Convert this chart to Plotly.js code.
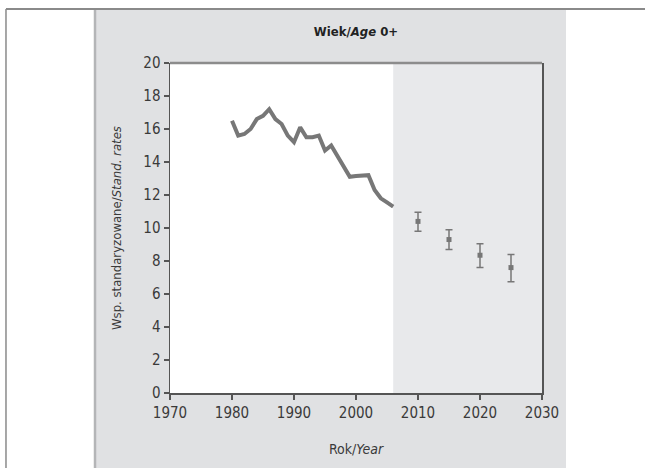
<!DOCTYPE html>
<html>
<head>
<meta charset="utf-8">
<script src="https://cdn.plot.ly/plotly-3.0.1.min.js"></script>
<style>
  html, body { margin: 0; padding: 0; background: #ffffff; }
  #chart { width: 645px; height: 468px; }
</style>
</head>
<body>
<div id="chart"></div>
<script>
// Observed standardised rates, age 0+
var obsYears = [1980, 1981, 1982, 1983, 1984, 1985, 1986, 1987, 1988, 1989, 1990,
                1991, 1992, 1993, 1994, 1995, 1996, 1997, 1998, 1999, 2000,
                2001, 2002, 2003, 2004, 2005, 2006];
var obsRates = [16.5, 15.6, 15.7, 16.0, 16.6, 16.8, 17.2, 16.6, 16.3, 15.6, 15.2,
                16.1, 15.5, 15.5, 15.6, 14.7, 15.0, 14.4, 13.7, 13.1, 13.15,
                13.2, 13.2, 12.3, 11.8, 11.55, 11.3];

// Projected rates with uncertainty
var projYears = [2010, 2015, 2020, 2025];
var projRates = [10.4, 9.3, 8.35, 7.6];
var projErrUp = [0.55, 0.6, 0.7, 0.8];
var projErrDown = [0.6, 0.6, 0.75, 0.85];

// Start of the projection period (shaded)
var projStart = 2006;

var xTicks = [1970, 1980, 1990, 2000, 2010, 2020, 2030];
var yTicks = [0, 2, 4, 6, 8, 10, 12, 14, 16, 18, 20];

var FONT = '"Liberation Sans Narrow", "DejaVu Sans Condensed", "Liberation Sans", sans-serif';
var INK = '#3a3a3a';
var MARK = '#777777';

var traces = [
  {
    x: obsYears, y: obsRates, type: 'scatter', mode: 'lines',
    line: { color: MARK, width: 4 }, hoverinfo: 'skip', showlegend: false
  },
  {
    x: projYears, y: projRates, type: 'scatter', mode: 'markers',
    marker: { symbol: 'square', size: 5, color: MARK },
    error_y: { type: 'data', symmetric: false, array: projErrUp, arrayminus: projErrDown,
               color: MARK, thickness: 1.5, width: 3.5 },
    hoverinfo: 'skip', showlegend: false
  }
];

var layout = {
  width: 645, height: 468,
  margin: { l: 170, r: 103, t: 63, b: 75, pad: 0 },
  paper_bgcolor: '#ffffff',
  plot_bgcolor: '#ffffff',
  font: { family: FONT, color: INK, size: 14 },
  title: {
    text: '<b>Wiek/<i>Age</i> 0+</b>',
    font: { family: FONT, size: 13, color: '#222' },
    x: 0.5, xref: 'paper', xanchor: 'center',
    y: 33, yref: 'container', yanchor: 'middle'
  },
  xaxis: {
    range: [1970, 2030], tickvals: xTicks, ticktext: xTicks.map(String),
    showgrid: false, zeroline: false,
    showline: true, linecolor: '#555', linewidth: 1.5, mirror: false,
    ticks: 'outside', ticklen: 5, tickwidth: 1.5, tickcolor: '#555',
    tickfont: { family: FONT, size: 15, color: INK },
    title: { text: 'Rok/<i>Year</i>', font: { family: FONT, size: 14, color: INK }, standoff: 23 }
  },
  yaxis: {
    range: [0, 20], tickvals: yTicks, ticktext: yTicks.map(String),
    showgrid: false, zeroline: false,
    showline: true, linecolor: '#555', linewidth: 1.5, mirror: true,
    ticks: 'outside', ticklen: 5, tickwidth: 1.5, tickcolor: '#555',
    tickfont: { family: FONT, size: 15, color: INK },
    title: { text: 'Wsp. standaryzowane/<i>Stand. rates</i>',
             font: { family: FONT, size: 13, color: INK }, standoff: 19 }
  },
  shapes: [
    // grey panel behind the chart
    { type: 'rect', xref: 'paper', yref: 'paper', layer: 'below',
      x0: -0.2016, x1: 1.0645, y0: -0.23, y1: 1.1606,
      fillcolor: '#e0e1e3', line: { width: 0 } },
    // darker left edge of the panel
    { type: 'line', xref: 'paper', yref: 'paper', layer: 'below',
      x0: -0.2016, x1: -0.2016, y0: -0.23, y1: 1.1606,
      line: { color: '#b4b5b7', width: 2.5 } },
    // white plotting area
    { type: 'rect', xref: 'paper', yref: 'paper', layer: 'below',
      x0: 0, x1: 1, y0: 0, y1: 1,
      fillcolor: '#ffffff', line: { width: 0 } },
    // shaded projection period
    { type: 'rect', xref: 'x', yref: 'paper', layer: 'below',
      x0: projStart, x1: 2030, y0: 0, y1: 1,
      fillcolor: '#e8e9eb', line: { width: 0 } },
    // top edge of the plotting area
    { type: 'line', xref: 'paper', yref: 'paper', layer: 'above',
      x0: 0, x1: 1, y0: 1, y1: 1,
      line: { color: '#8c8c8c', width: 2.5 } },
    // page frame: top and left rules
    { type: 'line', xref: 'paper', yref: 'paper', layer: 'below',
      x0: -0.4409, x1: 1.28, y0: 1.1636, y1: 1.1636,
      line: { color: '#8a8a8a', width: 2 } },
    { type: 'line', xref: 'paper', yref: 'paper', layer: 'below',
      x0: -0.4409, x1: -0.4409, y0: -0.23, y1: 1.1636,
      line: { color: '#8a8a8a', width: 1.5 } }
  ]
};

Plotly.newPlot('chart', traces, layout, { displayModeBar: false, staticPlot: true });
</script>
</body>
</html>
